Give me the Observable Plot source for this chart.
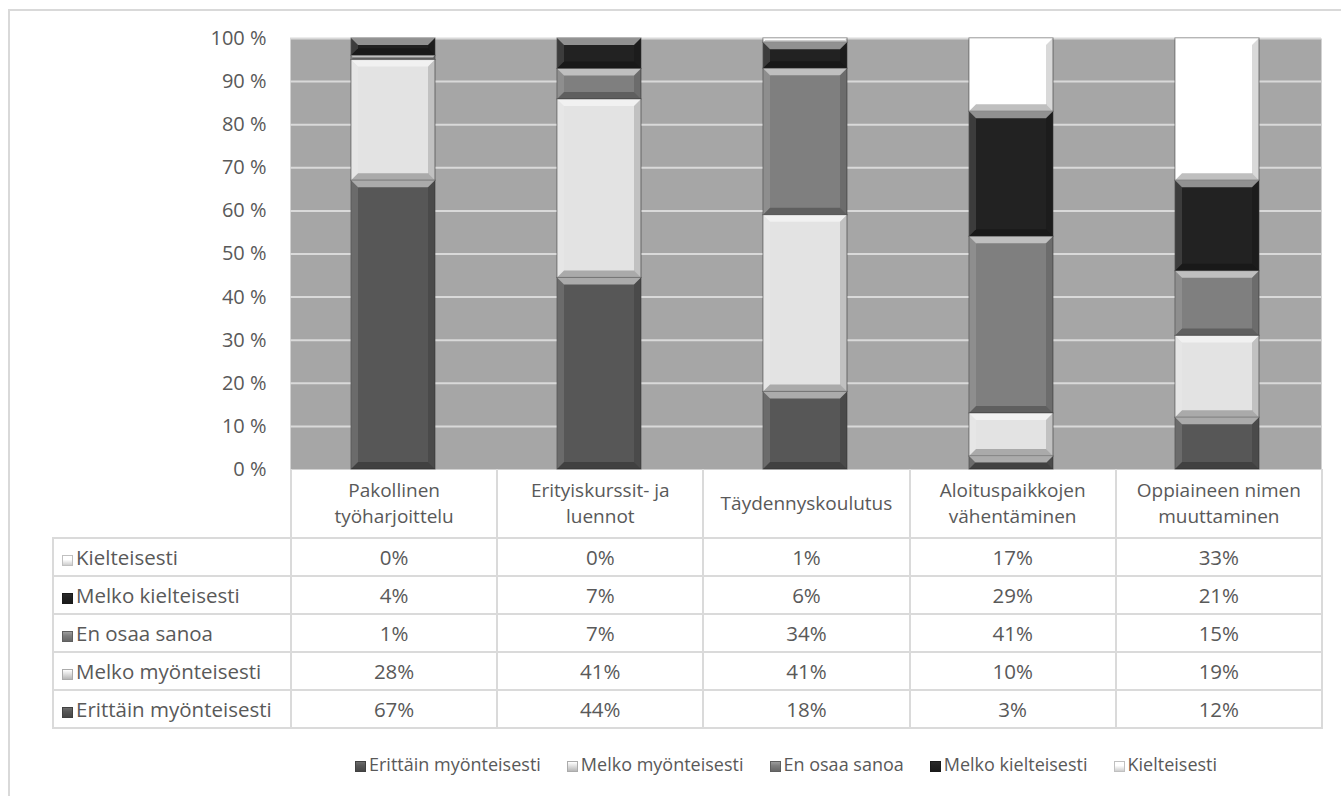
<!DOCTYPE html>
<html>
<head>
<meta charset="utf-8">
<script src="https://cdn.jsdelivr.net/npm/d3@7"></script>
<script src="https://cdn.jsdelivr.net/npm/@observablehq/plot@0.6"></script>
<style>
  html, body { margin: 0; padding: 0; background: #fff; }
  #wrap { position: relative; width: 1341px; height: 796px; overflow: hidden; font-family: "Open Sans", sans-serif; color: #595959; }
  #border { position: absolute; left: 8px; top: 9px; right: -10px; bottom: -10px; border-top: 2px solid #d9d9d9; border-left: 2px solid #d9d9d9; }
  #plot { position: absolute; left: 0; top: 0; }
  table { position: absolute; left: 52px; top: 469px; border-collapse: collapse; table-layout: fixed; font-size: 20.5px; color: #595959; }
  td, th { border: 2px solid #dadada; padding: 0; font-weight: normal; text-align: center; white-space: nowrap; }
  th { border-top: none; font-size: 19px; line-height: 26px; vertical-align: middle; }
  th span { display: block; }
  td.empty { border: none; }
  tr.data { height: 38px; }
  td.lab { text-align: left; padding-left: 8px; }
  .mk { display: inline-block; width: 11px; height: 11px; margin-right: 3px; vertical-align: -1px; box-sizing: border-box; }
  #legend { position: absolute; top: 752px; left: 0; width: 1341px; display: flex; justify-content: flex-start; font-size: 18px; padding-left: 355px; box-sizing: border-box; }
  #legend .it { margin-right: 26px; white-space: nowrap; }
</style>
</head>
<body>
<div id="wrap">
  <div id="border"></div>
  <div id="plot"></div>
  <table id="tbl"></table>
  <div id="legend"></div>
</div>
<script>
// ---- data ----
const categories = ["Pakollinen työharjoittelu", "Erityiskurssit- ja luennot", "Täydennyskoulutus", "Aloituspaikkojen vähentäminen", "Oppiaineen nimen muuttaminen"];
const categoryLines = [["Pakollinen", "työharjoittelu"], ["Erityiskurssit- ja", "luennot"], ["Täydennyskoulutus"], ["Aloituspaikkojen", "vähentäminen"], ["Oppiaineen nimen", "muuttaminen"]];
const series = ["Erittäin myönteisesti", "Melko myönteisesti", "En osaa sanoa", "Melko kielteisesti", "Kielteisesti"];
const erittainMyonteisesti = [67, 44, 18, 3, 12];
const melkoMyonteisesti = [28, 41, 41, 10, 19];
const enOsaaSanoa = [1, 7, 34, 41, 15];
const melkoKielteisesti = [4, 7, 6, 29, 21];
const kielteisesti = [0, 0, 1, 17, 33];
const yTickLabels = [0, 10, 20, 30, 40, 50, 60, 70, 80, 90, 100];
const seriesColors = ["#575757", "#e3e3e3", "#7f7f7f", "#222222", "#ffffff"];

const seriesValues = [erittainMyonteisesti, melkoMyonteisesti, enOsaaSanoa, melkoKielteisesti, kielteisesti];
const data = [];
series.forEach((s, si) => categories.forEach((c, ci) => data.push({cat: c, series: s, value: seriesValues[si][ci]})));

// ---- plot ----
const plot = Plot.plot({
  width: 1341,
  height: 480,
  marginTop: 38,
  marginBottom: 11,
  marginLeft: 290,
  marginRight: 20,
  style: {fontFamily: "'Open Sans', sans-serif", fontSize: "20px", color: "#595959", background: "transparent", overflow: "visible"},
  x: {domain: categories, paddingInner: 0.59, paddingOuter: 0.295, axis: null},
  y: {domain: [0, 1], ticks: yTickLabels.map(v => v / 100), tickFormat: d => Math.round(d * 100) + " %", tickSize: 0, tickPadding: 24, label: null},
  color: {domain: series, range: seriesColors},
  marks: [
    Plot.frame({fill: "#a6a6a6", stroke: "none"}),
    Plot.ruleY(yTickLabels.filter(v => v > 0).map(v => v / 100), {stroke: "#d9d9d9", strokeWidth: 2}),
    Plot.barY(data, Plot.stackY({offset: "normalize", order: series, x: "cat", y: "value", fill: "series", stroke: "#3a3a3a", strokeOpacity: 0.6, strokeWidth: 1}))
  ]
});
document.getElementById("plot").appendChild(plot);

// bevel effect on the rendered bars
const svgNS = "http://www.w3.org/2000/svg";
plot.querySelectorAll('g[aria-label="bar"]').forEach(g => {
  const rects = Array.from(g.querySelectorAll("rect"));
  rects.forEach(r => {
    const x = +r.getAttribute("x"), y = +r.getAttribute("y"), w = +r.getAttribute("width"), h = +r.getAttribute("height");
    if (!(h > 0)) return;
    const b = Math.min(7, h / 2, w / 2);
    const polys = [
      {pts: [[x, y], [x + w, y], [x + w - b, y + b], [x + b, y + b]], fill: "#ffffff", op: 0.5},
      {pts: [[x, y + h], [x + w, y + h], [x + w - b, y + h - b], [x + b, y + h - b]], fill: "#000000", op: 0.25},
      {pts: [[x, y], [x + b, y + b], [x + b, y + h - b], [x, y + h]], fill: "#ffffff", op: 0.12},
      {pts: [[x + w, y], [x + w - b, y + b], [x + w - b, y + h - b], [x + w, y + h]], fill: "#000000", op: 0.15}
    ];
    polys.forEach(p => {
      const el = document.createElementNS(svgNS, "polygon");
      el.setAttribute("points", p.pts.map(q => q.join(",")).join(" "));
      el.setAttribute("fill", p.fill);
      el.setAttribute("fill-opacity", p.op);
      el.setAttribute("stroke", "none");
      g.appendChild(el);
    });
  });
});

// ---- table ----
function marker(color) {
  const c = d3.color(color);
  const light = c.brighter(0.6).formatHex(), dark = c.darker(0.6).formatHex();
  return `<span class="mk" style="background:linear-gradient(to bottom, ${light}, ${color} 40%, ${dark});border:1px solid ${d3.color(color).darker(0.8).formatHex()}"></span>`;
}
const tbl = document.getElementById("tbl");
let html = `<colgroup><col style="width:238px">${categories.map(() => '<col style="width:206.2px">').join("")}</colgroup>`;
html += `<tr style="height:69px"><td class="empty"></td>${categoryLines.map(l => `<th>${l.map(t => `<span>${t}</span>`).join("")}</th>`).join("")}</tr>`;
for (let si = series.length - 1; si >= 0; si--) {
  html += `<tr class="data"><td class="lab">${marker(seriesColors[si])}${series[si]}</td>${seriesValues[si].map(v => `<td>${v}%</td>`).join("")}</tr>`;
}
tbl.innerHTML = html;

// ---- legend ----
document.getElementById("legend").innerHTML = series.map((s, i) => `<span class="it">${marker(seriesColors[i])}${s}</span>`).join("");
</script>
</body>
</html>
